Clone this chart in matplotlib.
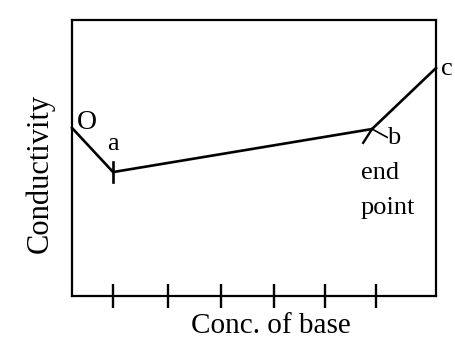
import matplotlib.pyplot as plt

# Conductometric titration curve (weak acid vs strong base)
point_names = ['O', 'a', 'b', 'c']
conc_base = [0.0, 0.79, 5.77, 7.0]
conductivity = [6.09, 4.49, 6.05, 8.26]
tick_pos = [0.79, 1.85, 2.87, 3.88, 4.87, 5.85]

plt.rcParams['font.family'] = 'Liberation Serif'

fig = plt.figure(figsize=(4.55, 3.45), dpi=100)
ax = fig.add_axes([72 / 455, 49 / 345, 364 / 455, 276 / 345])

ax.plot(conc_base, conductivity, color='black', lw=1.9, clip_on=False,
        solid_joinstyle='miter')

# small marks at a and b
xa, ya = conc_base[1], conductivity[1]
ax.plot([xa, xa], [ya - 0.36, ya + 0.37], color='black', lw=1.9)
xb, yb = conc_base[2], conductivity[2]
ax.plot([xb - 0.17, xb], [yb - 0.5, yb], color='black', lw=1.7)
ax.plot([xb, xb + 0.29], [yb, yb - 0.3], color='black', lw=1.2)

# point labels
ax.text(0.29, ya + 1.8, point_names[0], fontsize=20, ha='center', va='center')
ax.text(xa, ya + 1.0, point_names[1], fontsize=19, ha='center', va='center')
ax.text(xb + 0.42, yb - 0.33, point_names[2], fontsize=19, ha='center', va='center')
ax.text(xb - 0.22, yb - 1.6, 'end', fontsize=19, ha='left', va='center')
ax.text(xb - 0.22, yb - 2.85, 'point', fontsize=19, ha='left', va='center')
ax.text(conc_base[3] + 0.21, conductivity[3] - 0.05, point_names[3], fontsize=19,
        ha='center', va='center', clip_on=False)

ax.set_xlim(0, 7)
ax.set_ylim(0, 10)
ax.set_xticks(tick_pos)
ax.set_xticklabels([])
ax.set_yticks([])
ax.tick_params(axis='x', direction='inout', length=17, width=1.7, color='black')
for s in ax.spines.values():
    s.set_linewidth(1.6)

fig.text(271 / 455, 1 - 326 / 345, 'Conc. of base', fontsize=21,
         ha='center', va='center')
fig.text(40 / 455, 1 - 173 / 345, 'Conductivity', fontsize=22,
         rotation=90, ha='center', va='center')

fig.savefig('out.png', dpi=100)
